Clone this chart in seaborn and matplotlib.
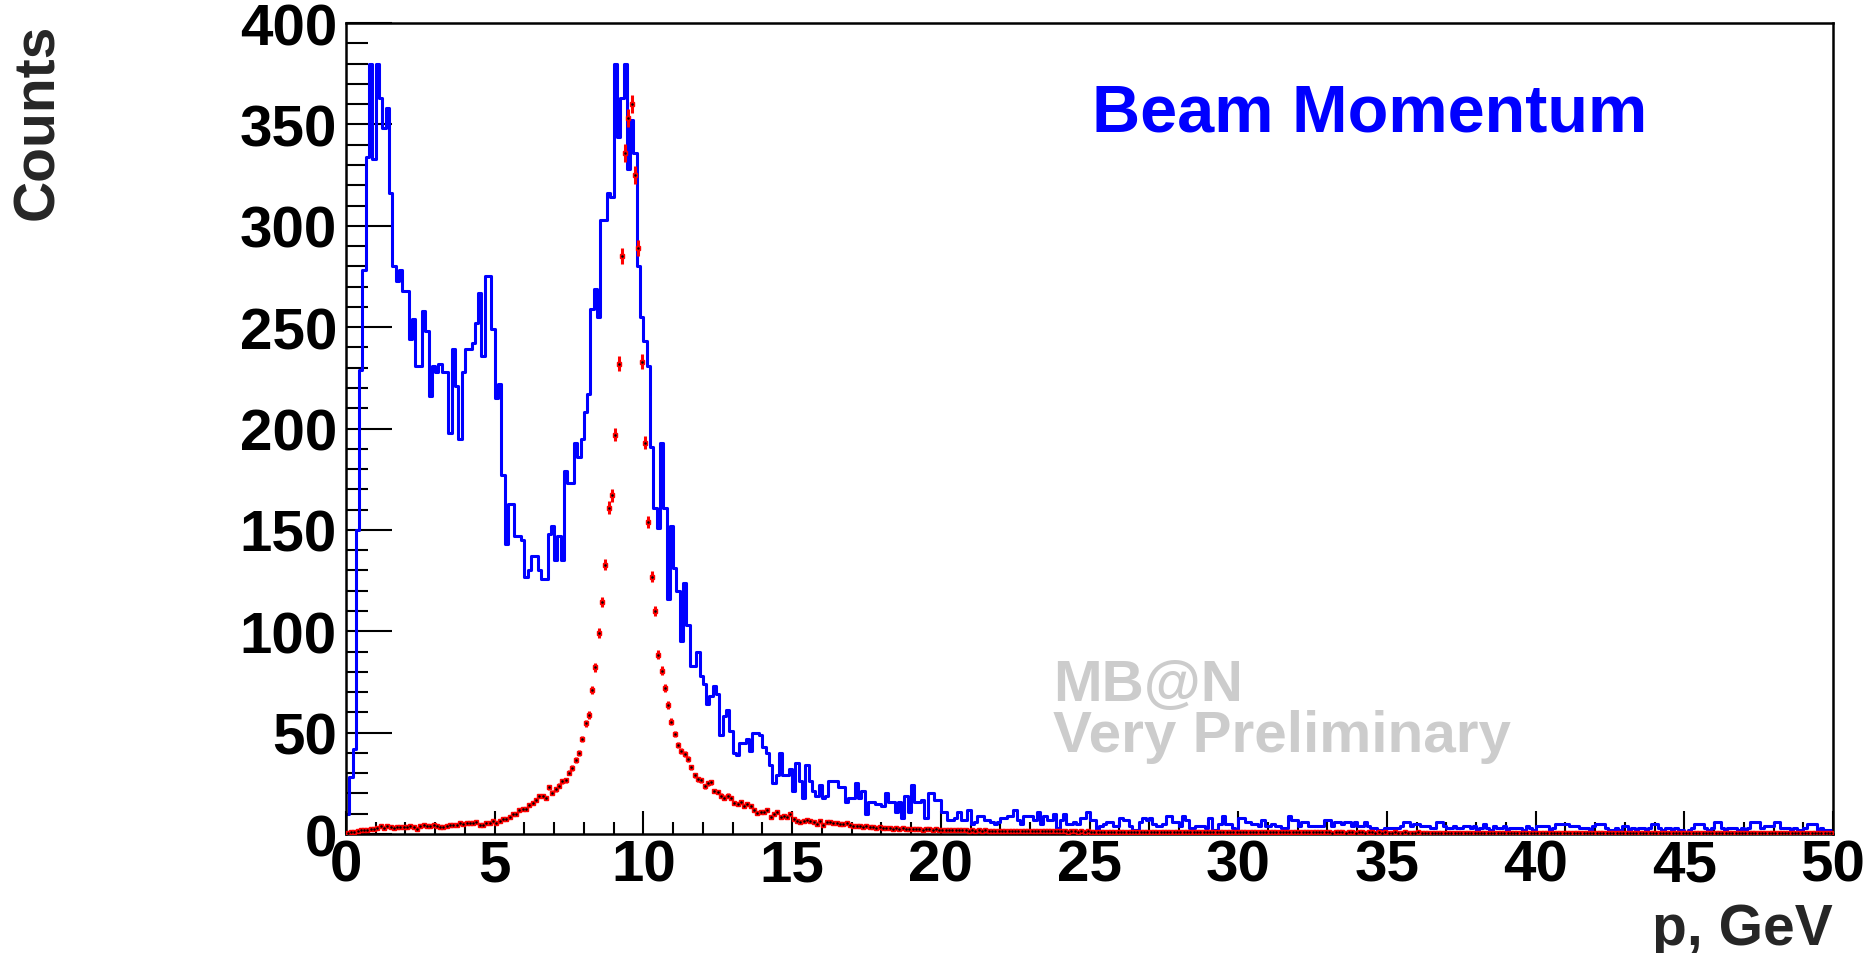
import numpy as np
import pandas as pd
import matplotlib
matplotlib.use("Agg")
import matplotlib.pyplot as plt
import seaborn as sns
from matplotlib.ticker import MultipleLocator

# histogram definition: 450 bins from 0 to 50 GeV
P_MIN, P_MAX, N_BINS = 0.0, 50.0, 450

# blue histogram (all beam), counts per bin
blue_counts = [
    10, 28, 42, 150, 229, 278, 334, 380, 333, 380,
    363, 348, 358, 316, 280, 273, 278, 268, 268, 244,
    254, 231, 231, 258, 248, 216, 231, 228, 232, 228,
    228, 198, 239, 221, 195, 228, 239, 239, 242, 252,
    267, 236, 275, 275, 249, 215, 222, 177, 143, 163,
    163, 147, 147, 145, 127, 130, 137, 137, 130, 126,
    126, 148, 152, 135, 147, 135, 179, 173, 173, 193,
    186, 195, 208, 217, 259, 269, 255, 303, 303, 316,
    314, 380, 344, 363, 380, 328, 352, 336, 280, 255,
    243, 231, 191, 161, 151, 193, 161, 116, 152, 131,
    120, 95, 124, 103, 83, 83, 90, 78, 74, 64,
    68, 73, 69, 49, 58, 61, 51, 40, 39, 45,
    45, 47, 41, 50, 50, 49, 43, 40, 34, 25,
    29, 40, 29, 29, 32, 21, 35, 26, 18, 34,
    26, 21, 19, 24, 18, 19, 26, 26, 26, 23,
    23, 16, 18, 18, 25, 18, 21, 10, 16, 16,
    15, 15, 14, 20, 16, 16, 11, 16, 8, 19,
    11, 24, 16, 16, 17, 8, 20, 20, 17, 17,
    11, 11, 7, 7, 8, 11, 7, 7, 12, 5,
    6, 9, 9, 7, 7, 6, 5, 6, 8, 8,
    9, 9, 12, 7, 5, 9, 9, 9, 7, 11,
    5, 9, 7, 7, 10, 3, 7, 10, 5, 5,
    6, 5, 8, 8, 11, 7, 7, 1, 4,
    5, 6, 6, 4, 4, 8, 7, 7, 4, 2,
    2, 6, 8, 7, 8, 5, 4, 4, 5, 9,
    9, 6, 6, 4, 9, 7, 3, 3, 4, 4,
    4, 3, 8, 2, 2, 5, 9, 5, 5, 3,
    2, 8, 8, 6, 6, 5, 5, 4, 7, 4,
    4, 5, 4, 4, 3, 3, 9, 7, 7, 4,
    6, 6, 4, 4, 4, 4, 4, 7, 7, 4,
    6, 6, 5, 6, 6, 4, 6, 4, 4, 6,
    4, 3, 3, 2, 2, 3, 3, 3, 3, 3,
    4, 6, 6, 4, 5, 5, 4, 4, 4, 3,
    3, 6, 6, 4, 3, 3, 4, 3, 3, 4, 4,
    3, 4, 2, 3, 5, 3, 2, 4, 3, 3,
    4, 2, 3, 3, 3, 3, 2, 4, 3, 2,
    4, 4, 4, 4, 2, 3, 5, 5, 5, 5,
    4, 4, 4, 3, 3, 3, 2, 4, 5, 5,
    5, 3, 2, 2, 3, 2, 4, 4, 2, 3,
    2, 3, 3, 2, 3, 5, 5, 3, 2, 3,
    3, 2, 3, 2, 2, 1, 2, 3, 5, 5,
    5, 3, 2, 3, 6, 6, 3, 2, 3, 3,
    3, 2, 3, 2, 3, 6, 6, 6, 3, 4,
    4, 4, 6, 6, 3, 3, 3, 2, 3, 2,
    2, 3, 5, 5, 5, 2, 3, 2, 2, 2,
]

# red points (selected beam), counts per bin
red_counts = [
    0.5, 1.0, 1.0, 1.5, 2.0, 2.0, 2.1, 2.6, 2.6, 3.0,
    4.0, 3.0, 3.8, 3.3, 3.0, 3.3, 3.3, 3.4, 3.3, 3.8,
    3.3, 2.6, 4.2, 4.7, 3.8, 4.2, 4.7, 3.8, 3.3, 3.5,
    3.8, 4.7, 4.7, 4.5, 5.2, 5.0, 5.2, 5.2, 5.4, 6.1,
    4.7, 4.7, 5.6, 5.6, 6.4, 5.2, 6.4, 7.3, 7.3, 8.2,
    9.9, 9.9, 11.7, 12.5, 12.5, 14.3, 15.2, 17.0, 18.6, 18.6,
    17.8, 23.0, 20.4, 22.0, 23.9, 26.0, 26.5, 30.3, 32.6, 36.4,
    39.9, 46.9, 54.7, 58.7, 70.9, 82.2, 99.0, 114.5, 132.8, 161.0,
    167.0, 197.0, 232.0, 285.0, 336.0, 353.0, 360.0, 325.0, 289.0, 233.0,
    193.0, 154.0, 127.0, 110.0, 88.5, 80.5, 72.0, 63.6, 55.4, 49.3,
    44.0, 41.0, 39.4, 37.0, 32.9, 29.0, 27.0, 26.6, 23.5, 25.0,
    25.6, 21.3, 20.8, 19.0, 18.0, 19.0, 17.6, 15.3, 14.8, 15.7,
    13.6, 14.8, 14.0, 12.0, 10.4, 11.0, 11.0, 12.0, 8.2, 9.9,
    10.7, 8.2, 9.0, 8.2, 9.9, 7.4, 6.6, 6.1, 6.6, 7.1,
    6.6, 5.8, 4.9, 6.6, 4.4,
    6.1, 5.8, 5.5, 5.3, 5.0, 4.8, 5.2, 4.4, 4.0, 3.8, 4.1, 3.6, 3.8, 3.3, 3.5,
    3.2, 3.3, 3.0, 2.8, 3.1, 2.7, 2.9, 2.6, 2.8, 2.5,
    2.7, 2.3, 2.5, 2.4, 2.2, 2.5, 2.3, 2.1, 2.4, 2.2,
    2.0, 2.2, 2.0, 1.9, 2.1, 1.8, 2.0, 1.9, 1.7, 1.9,
    1.7, 1.8, 1.6, 1.8, 1.7, 1.5, 1.7, 1.6, 1.5, 1.7,
    1.6, 1.5, 1.6, 1.4, 1.5, 1.5, 1.4, 1.5, 1.3, 1.4,
    1.4, 1.3, 1.4, 1.3, 1.4, 1.3, 1.3, 1.4, 1.2, 1.3,
    1.3, 1.2, 1.3, 1.2, 1.3, 1.2, 1.2, 1.1, 1.2, 1.2,
    1.1, 1.2, 1.1, 1.2, 1.1, 1.1, 1.2, 1.1, 1.0, 1.1,
    1.1, 1.0, 1.1, 1.0, 1.1, 1.1, 1.0, 1.0, 1.1, 1.0,
    1.0, 1.1, 1.0, 0.9, 1.0, 1.0, 0.9, 1.0, 1.0, 0.9,
    1.0, 0.9, 1.0, 0.9, 0.9, 1.0, 0.9, 0.9, 1.0, 0.9,
    0.9, 0.9, 0.8, 0.9, 0.9, 0.9, 0.8, 0.9, 0.9, 0.8,
    0.9, 0.9, 0.8, 0.9, 0.8, 0.9, 0.8, 0.8, 0.9, 0.8,
    0.8, 0.9, 0.8, 0.8, 0.8, 0.9, 0.8, 0.8, 0.7, 0.8,
    0.8, 0.8, 0.7, 0.8, 0.8, 0.7, 0.8, 0.8, 0.7, 0.8,
    0.8, 0.7, 0.8, 0.7, 0.8, 0.7, 0.7, 0.8, 0.7, 0.7,
    0.8, 0.7, 0.7, 0.7, 0.8, 0.7, 0.7, 0.6, 0.7, 0.7,
    0.7, 0.6, 0.7, 0.7, 0.6, 0.7, 0.7, 0.6, 0.7, 0.7,
    0.6, 0.7, 0.6, 0.7, 0.6, 0.6, 0.7, 0.6, 0.6, 0.7,
    0.6, 0.6, 0.6, 0.7, 0.6, 0.6, 0.6, 0.5, 0.6, 0.6,
    0.6, 0.5, 0.6, 0.6, 0.5, 0.6, 0.6, 0.5, 0.6, 0.6,
    0.5, 0.6, 0.5, 0.6, 0.5, 0.5, 0.6, 0.5, 0.5, 0.6,
    0.5, 0.5, 0.5, 0.6, 0.5, 0.5, 0.5, 0.5, 0.6, 0.5,
    0.5, 0.5, 0.4, 0.5, 0.5, 0.5, 0.4, 0.5, 0.5, 0.5,
    0.5, 0.4, 0.5, 0.5, 0.4, 0.5, 0.5, 0.4, 0.5, 0.4,
    0.5, 0.4, 0.5, 0.4, 0.4, 0.5, 0.4, 0.5, 0.4, 0.4,
    0.5, 0.4, 0.4, 0.4, 0.5, 0.4, 0.4, 0.4, 0.4, 0.5,
    0.4, 0.4, 0.4, 0.4, 0.5, 0.4, 0.4, 0.4, 0.4, 0.4,
    0.3, 0.4, 0.4, 0.4, 0.4, 0.3, 0.4, 0.4, 0.4, 0.4,
]

x_tick_labels = [0, 5, 10, 15, 20, 25, 30, 35, 40, 45, 50]
y_tick_labels = [0, 50, 100, 150, 200, 250, 300, 350, 400]

assert len(blue_counts) == N_BINS, len(blue_counts)
assert len(red_counts) == N_BINS, len(red_counts)

edges = np.linspace(P_MIN, P_MAX, N_BINS + 1)
centers = 0.5 * (edges[:-1] + edges[1:])
df = pd.DataFrame({'p': centers, 'blue': blue_counts, 'red': red_counts})
red_err = 0.24 * np.sqrt(df['red'])   # statistical error, scaled like the original

sns.set_theme(style="white")
plt.rcParams['font.family'] = ['Liberation Sans', 'DejaVu Sans']
plt.rcParams['font.weight'] = 'bold'

fig = plt.figure(figsize=(18.72, 9.54), dpi=100)
ax = fig.add_axes([0.1848, 0.1247, 0.9792 - 0.1848, 0.9748 - 0.1247])

sns.histplot(data=df, x='p', weights='blue', bins=N_BINS, binrange=(P_MIN, P_MAX),
             element="step", fill=False, color="#0000ff", linewidth=2.2, ax=ax)

ax.errorbar(df['p'], df['red'], yerr=red_err, fmt='s', ms=2.4, color='#ff0000',
            mec='#ff0000', ecolor='#ff0000', elinewidth=2.2, capsize=0, zorder=4)
ax.plot(df['p'], df['red'], linestyle='none', marker='.', ms=1.6, color='black', zorder=5)

ax.set_xlim(P_MIN, P_MAX)
ax.set_ylim(0, 400)
ax.set_xticks(x_tick_labels)
ax.set_yticks(y_tick_labels)
ax.xaxis.set_minor_locator(MultipleLocator(1))
ax.yaxis.set_minor_locator(MultipleLocator(10))
ax.tick_params(axis='both', which='both', direction='in', top=False, right=False,
               bottom=True, left=True, colors='black', width=1.5, labelsize=42)
ax.tick_params(axis='x', which='major', length=16.5, pad=3)
ax.tick_params(axis='x', which='minor', length=8.5)
ax.tick_params(axis='y', which='major', length=33, pad=6.5)
ax.tick_params(axis='y', which='minor', length=16)
for lab in ax.get_xticklabels() + ax.get_yticklabels():
    lab.set_fontweight('bold')
for sp in ax.spines.values():
    sp.set_color('black')
    sp.set_linewidth(1.8)
ax.set_xlabel('')
ax.set_ylabel('')

fig.text(38 / 1872, 1 - 24 / 954, 'Counts', rotation=90, ha='center', va='top',
         fontsize=41, fontweight='bold')
fig.text(0.9792, 1 - 930 / 954, 'p, GeV', ha='right', va='center',
         fontsize=41, fontweight='bold')
fig.text(1092 / 1872, 1 - 131 / 954, 'Beam Momentum', ha='left', va='baseline',
         fontsize=48, fontweight='bold', color='#0000ff')
fig.text(1053 / 1872, 1 - 701 / 954, 'MB@N', ha='left', va='baseline',
         fontsize=42, fontweight='bold', color='#cccccc')
fig.text(1053 / 1872, 1 - 752 / 954, 'Very Preliminary', ha='left', va='baseline',
         fontsize=42, fontweight='bold', color='#cccccc')

fig.savefig('out.png', dpi=100)
plt.close(fig)
